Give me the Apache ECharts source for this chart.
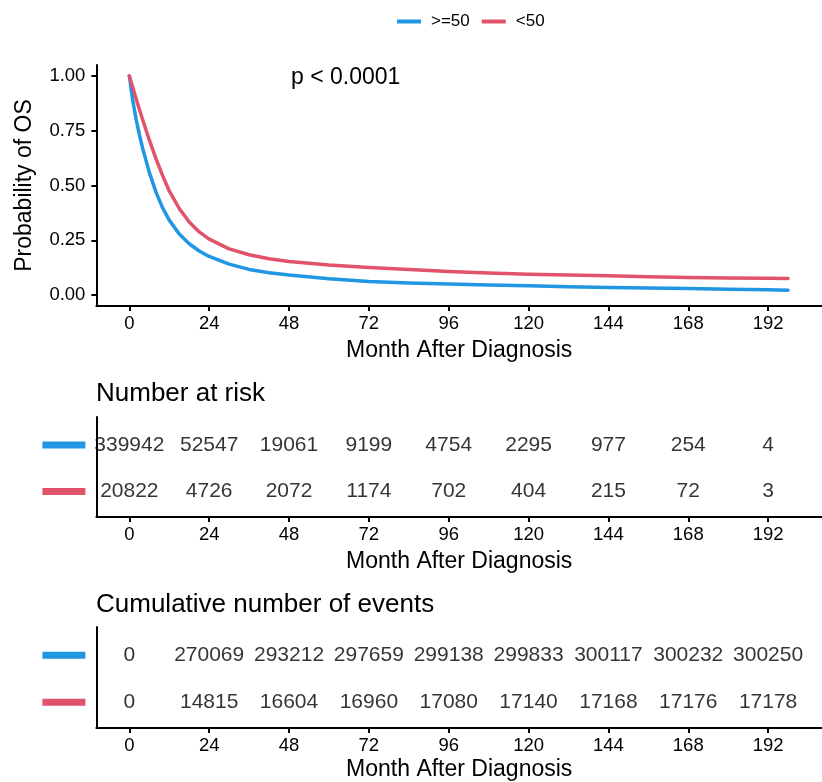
<!DOCTYPE html>
<html>
<head>
<meta charset="utf-8">
<script src="https://cdn.jsdelivr.net/npm/echarts@6/dist/echarts.min.js"></script>
<style>
html,body{margin:0;padding:0;background:#fff;}
#chart{width:822px;height:782px;}
</style>
</head>
<body>
<div id="chart"></div>
<script>
// ---- data ----
const groups = ['>=50', '<50'];
const months = [0, 1, 2, 3, 4, 6, 8, 10, 12, 15, 18, 21, 24, 30, 36, 42, 48, 60, 72, 84, 96, 108, 120, 132, 144, 156, 168, 180, 192, 198];
const survHigh = [1.00, 0.89, 0.805, 0.733, 0.670, 0.560, 0.470, 0.398, 0.342, 0.279, 0.234, 0.201, 0.176, 0.141, 0.117, 0.102, 0.091, 0.074, 0.062, 0.055, 0.050, 0.046, 0.042, 0.038, 0.035, 0.032, 0.030, 0.027, 0.024, 0.022];
const survLow = [1.00, 0.95, 0.898, 0.848, 0.800, 0.708, 0.623, 0.545, 0.475, 0.395, 0.333, 0.288, 0.255, 0.211, 0.184, 0.166, 0.153, 0.137, 0.126, 0.117, 0.108, 0.101, 0.095, 0.091, 0.088, 0.084, 0.080, 0.078, 0.077, 0.076];
const xTicks = [0, 24, 48, 72, 96, 120, 144, 168, 192];
const yTicks = [0, 0.25, 0.5, 0.75, 1.0];
const tableTimes = [0, 24, 48, 72, 96, 120, 144, 168, 192];
const riskHigh = [339942, 52547, 19061, 9199, 4754, 2295, 977, 254, 4];
const riskLow = [20822, 4726, 2072, 1174, 702, 404, 215, 72, 3];
const eventsHigh = [0, 270069, 293212, 297659, 299138, 299833, 300117, 300232, 300250];
const eventsLow = [0, 14815, 16604, 16960, 17080, 17140, 17168, 17176, 17178];
const pText = 'p < 0.0001';
const xTitle = 'Month After Diagnosis';
const yTitle = 'Probability of OS';
const riskTitle = 'Number at risk';
const eventsTitle = 'Cumulative number of events';

// ---- style ----
const FONT = '"Liberation Sans", Arial, Helvetica, sans-serif';
const BLUE = '#2196E3';
const RED = '#E0536B';
const XMIN = -9.9, XMAX = 208.2;
const GL = 96.4, GW = 729.4;

const chart = echarts.init(document.getElementById('chart'), null, {renderer: 'canvas'});

function xAxisFor(gi, gap) {
  return {
    gridIndex: gi, type: 'value', min: XMIN, max: XMAX,
    name: xTitle, nameLocation: 'middle', nameGap: gap,
    nameTextStyle: {fontFamily: FONT, fontSize: 23, color: '#000'},
    axisLine: {show: true, onZero: false, lineStyle: {color: '#000', width: 2}},
    axisTick: {show: true, length: 5, customValues: xTicks, lineStyle: {color: '#000', width: 2}},
    axisLabel: {customValues: xTicks, margin: 8, fontFamily: FONT, fontSize: 18.5, color: '#000'},
    splitLine: {show: false}
  };
}
function tableYAxis(gi) {
  return {
    gridIndex: gi, type: 'value', min: 0.40, max: 2.55, inverse: true,
    axisLine: {show: true, onZero: false, lineStyle: {color: '#000', width: 2}},
    axisTick: {show: false},
    splitLine: {show: false},
    axisLabel: {
      customValues: [1, 2], margin: 11,
      formatter: v => v === 1 ? '{b| }' : '{r| }',
      rich: {
        b: {backgroundColor: BLUE, width: 43, height: 7, lineHeight: 7},
        r: {backgroundColor: RED, width: 43, height: 7, lineHeight: 7}
      }
    }
  };
}
function tableSeries(gi, row, vals) {
  return {
    type: 'scatter', xAxisIndex: gi, yAxisIndex: gi, silent: true,
    symbolSize: 0,
    data: tableTimes.map((t, i) => [t, row, vals[i]]),
    label: {
      show: true, position: 'inside', formatter: p => String(p.value[2]),
      fontFamily: FONT, fontSize: 21, color: '#000',
      textBorderWidth: 0, textBorderColor: 'transparent'
    }
  };
}

const option = {
  backgroundColor: '#fff',
  animation: false,
  textStyle: {fontFamily: FONT},
  legend: {
    data: groups, left: 397, top: 13, padding: 0, itemWidth: 24, itemHeight: 4, itemGap: 12,
    icon: 'rect',
    textStyle: {fontFamily: FONT, fontSize: 17, color: '#000', padding: [0, 0, 0, 5]}
  },
  title: [
    {text: riskTitle, left: 96, top: 381, padding: 0,
     textStyle: {fontFamily: FONT, fontSize: 26, fontWeight: 'normal', color: '#000'}},
    {text: eventsTitle, left: 96, top: 592, padding: 0,
     textStyle: {fontFamily: FONT, fontSize: 26, fontWeight: 'normal', color: '#000'}},
    {text: pText, left: 291, top: 66, padding: 0,
     textStyle: {fontFamily: FONT, fontSize: 23, fontWeight: 'normal', color: '#000'}}
  ],
  grid: [
    {left: GL, width: GW, top: 65, height: 241},
    {left: GL, width: GW, top: 417, height: 100},
    {left: GL, width: GW, top: 627, height: 101}
  ],
  xAxis: [xAxisFor(0, 33), xAxisFor(1, 33), xAxisFor(2, 30)],
  yAxis: [
    {
      gridIndex: 0, type: 'value', min: -0.05, max: 1.05,
      name: yTitle, nameLocation: 'middle', nameGap: 60,
      nameTextStyle: {fontFamily: FONT, fontSize: 23, color: '#000'},
      axisLine: {show: true, onZero: false, lineStyle: {color: '#000', width: 2}},
      axisTick: {show: true, length: 5, customValues: yTicks, lineStyle: {color: '#000', width: 2}},
      axisLabel: {customValues: yTicks, margin: 11, formatter: v => v.toFixed(2),
        fontFamily: FONT, fontSize: 18.5, color: '#000'},
      splitLine: {show: false}
    },
    tableYAxis(1),
    tableYAxis(2)
  ],
  series: [
    {
      name: groups[0], type: 'line', xAxisIndex: 0, yAxisIndex: 0,
      data: months.map((m, i) => [m, survHigh[i]]),
      showSymbol: false, smooth: false,
      lineStyle: {color: BLUE, width: 3.5, join: 'round', cap: 'round'}, itemStyle: {color: BLUE}
    },
    {
      name: groups[1], type: 'line', xAxisIndex: 0, yAxisIndex: 0,
      data: months.map((m, i) => [m, survLow[i]]),
      showSymbol: false, smooth: false,
      lineStyle: {color: RED, width: 3.5, join: 'round', cap: 'round'}, itemStyle: {color: RED}
    },
    tableSeries(1, 1, riskHigh),
    tableSeries(1, 2, riskLow),
    tableSeries(2, 1, eventsHigh),
    tableSeries(2, 2, eventsLow)
  ]
};
chart.setOption(option);
</script>
</body>
</html>
